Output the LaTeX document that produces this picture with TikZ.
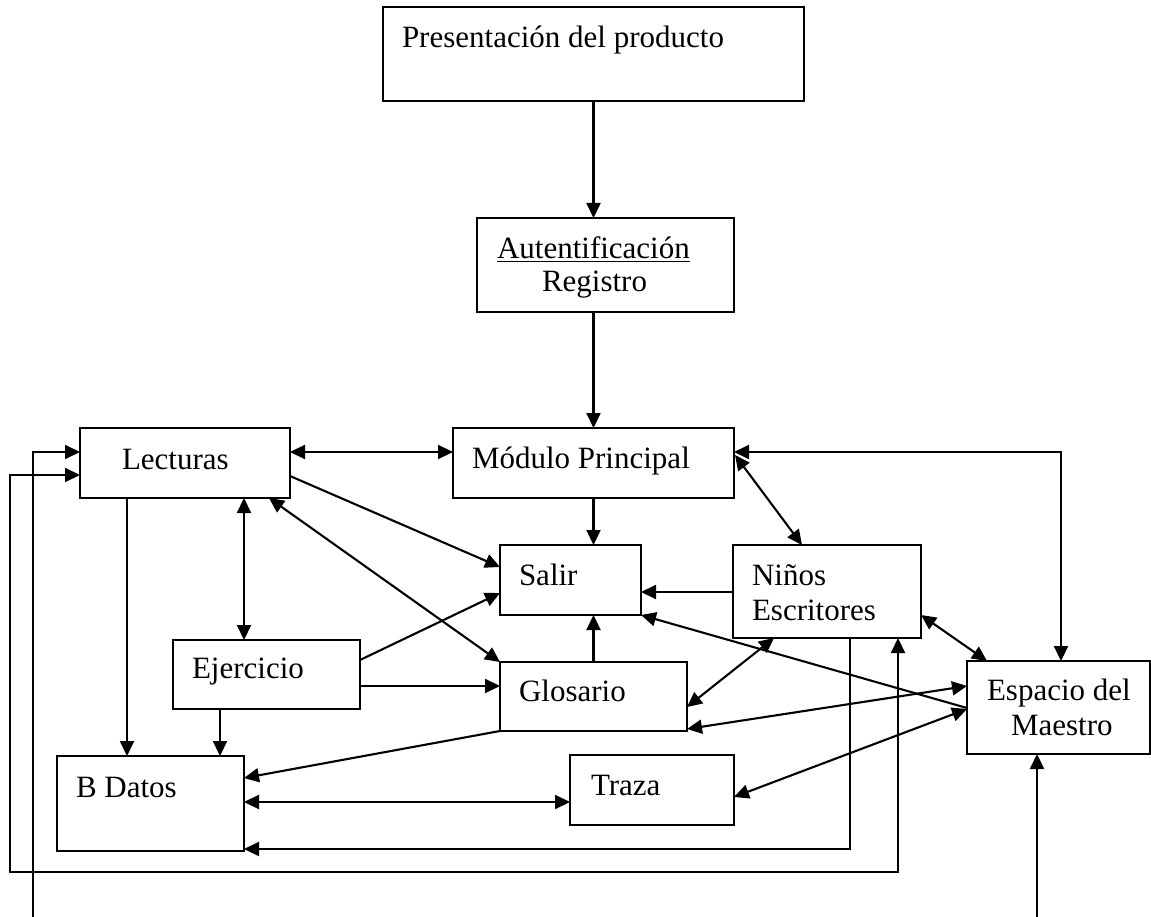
\documentclass[tikz,border=0pt]{standalone}
\usepackage{fontspec}
\setmainfont{Liberation Serif}
\usetikzlibrary{arrows.meta,calc,fit}

\begin{document}
\begin{tikzpicture}[x=1pt,y=-1pt,
  box/.style={draw, line width=2.1pt, inner sep=0pt, outer sep=0pt,
    minimum width=0pt, minimum height=0pt},
  lbl/.style={anchor=base west, inner sep=0pt, outer sep=0pt,
    font=\fontsize{31}{36}\selectfont},
  link/.style={line width=2.1pt},
  tip/.style={Triangle[length=15pt,width=14pt]},
  arr/.style={link, -{Triangle[length=15pt,width=14pt]}},
  arrs/.style={link, {Triangle[length=15pt,width=14pt]}-{Triangle[length=15pt,width=14pt]}}]

\useasboundingbox (0,0) rectangle (1151,917);
\clip (0,0) rectangle (1151,917);

% boxes
\node[box, fit={(383,7) (804,101)}]   (pres)  {};
\node[box, fit={(477,218) (734,312)}] (auth)  {};
\node[box, fit={(453,428) (734,498)}] (mod)   {};
\node[box, fit={(80,428) (290,498)}]  (lect)  {};
\node[box, fit={(500,545) (641,615)}] (salir) {};
\node[box, fit={(733,545) (921,638)}] (ninos) {};
\node[box, fit={(967,661) (1150,754)}] (esp)  {};
\node[box, fit={(173,640) (360,709)}] (ejer)  {};
\node[box, fit={(500,662) (687,731)}] (glos)  {};
\node[box, fit={(57,756) (244,851)}]  (bdat)  {};
\node[box, fit={(570,755) (734,825)}] (traza) {};

% labels
\node[lbl] (pres-t)  at (402,48)  {Presentación del producto};
\node[lbl] (auth-t)  at (497,259) {\setbox0\hbox{Autentificación}\rlap{\rule[-3.5pt]{\wd0}{1.8pt}}\box0};
\node[lbl] (auth-t2) at (542,292) {Registro};
\node[lbl] (mod-t)   at (472,468) {Módulo Principal};
\node[lbl] (lect-t)  at (122,469) {Lecturas};
\node[lbl] (salir-t) at (519,585) {Salir};
\node[lbl] (ninos-t) at (752,585) {Niños};
\node[lbl] (ninos-t2) at (752,620) {Escritores};
\node[lbl] (ejer-t)  at (192,678) {Ejercicio};
\node[lbl] (glos-t)  at (519,701) {Glosario};
\node[lbl] (bdat-t)  at (76,797)  {B Datos};
\node[lbl] (traza-t) at (591,795) {Traza};
\node[lbl] (esp-t)   at (987,700) {Espacio del};
\node[lbl] (esp-t2)  at (1011,735) {Maestro};

% bends of the routed connectors
\coordinate (loopA) at (10,872);
\coordinate (loopB) at (33,935);

% connectors
\draw[arr]  (pres.south) -- (pres.south |- auth.north);
\draw[arr]  (mod.north |- auth.south) -- (mod.north);
\draw[arrs] ($(lect.north east)+(0,24)$) -- ($(mod.north west)+(0,24)$);
\draw[arr]  ($(lect.north east)+(0,48)$) -- ($(salir.north west)+(0,22)$);
\draw[arrs] ($(lect.south east)+(-21,0)$) -- (glos.north west);
\draw[arrs] ($(lect.south west)+(164,0)$) -- ($(ejer.north west)+(71,0)$);
\draw[arr]  ($(lect.south west)+(47,0)$) -- ($(bdat.north west)+(70,0)$);
\draw[arr]  ($(ejer.south west)+(47,0)$) -- ($(bdat.north west)+(163,0)$);
\draw[arr]  ($(ejer.north east)+(0,20)$) -- ($(salir.north west)+(0,48)$);
\draw[arr]  ($(ejer.north east)+(0,46)$) -- ($(glos.north west)+(0,24)$);
\draw[arr]  (mod.south) -- (mod.south |- salir.north);
\draw[arr]  (glos.north) -- (glos.north |- salir.south);
\draw[arr]  ($(ninos.north west)+(0,47)$) -- ($(salir.north east)+(0,47)$);
\draw[arrs] ($(mod.north east)+(1,27)$) -- ($(ninos.north west)+(69,0)$);
\draw[arrs] ($(mod.north east)+(0,24)$) -| ($(esp.north west)+(94,0)$);
\draw[arrs] ($(ninos.north east)+(0,70)$) -- ($(esp.north west)+(20,0)$);
\draw[arrs] ($(ninos.south west)+(41,0)$) -- ($(glos.north east)+(0,45)$);
\draw[arr]  ($(esp.north west)+(0,47)$) -- (salir.south east);
\draw[arrs] ($(glos.south east)+(0,-2)$) -- ($(esp.north west)+(0,25)$);
\draw[arrs] ($(traza.north east)+(0,42)$) -- ($(esp.north west)+(0,48)$);
\draw[arr]  (glos.south west) -- ($(bdat.north east)+(0,22)$);
\draw[arrs] ($(bdat.north east)+(0,46)$) -- ($(traza.north west)+(0,47)$);
\draw[arr]  ($(ninos.south west)+(117,0)$) |- ($(bdat.south east)+(0,-2)$);
\draw[arrs] ($(lect.north west)+(0,47)$) -| (loopA) -| ($(ninos.south east)+(-23,0)$);
\draw[arrs] ($(lect.north west)+(0,24)$) -| (loopB) -| ($(esp.south west)+(70,0)$);
\end{tikzpicture}
\end{document}
